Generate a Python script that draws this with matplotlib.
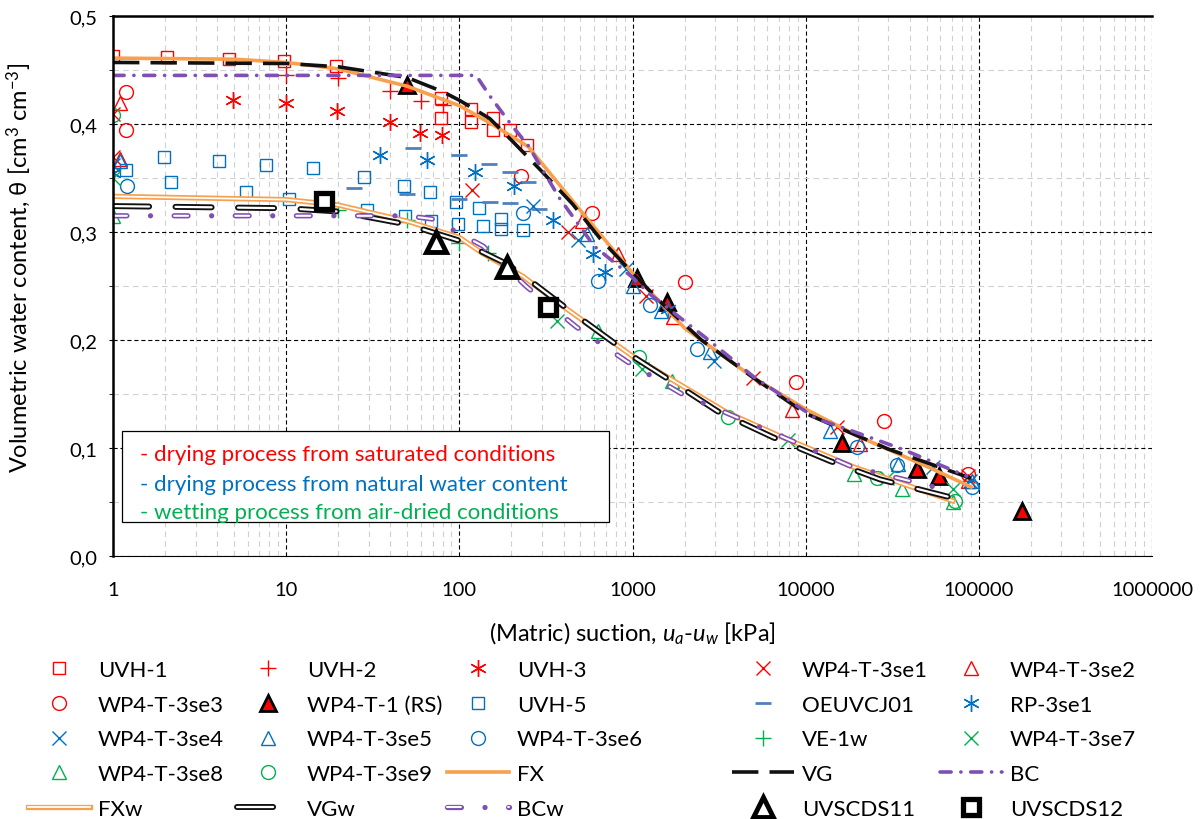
import matplotlib
matplotlib.use("Agg")
import matplotlib.pyplot as plt
from matplotlib.patches import Rectangle
from matplotlib.ticker import FixedLocator, FixedFormatter, NullFormatter

plt.rcParams['font.family'] = ['Lato', 'DejaVu Sans']
plt.rcParams['mathtext.fontset'] = 'custom'
plt.rcParams['mathtext.rm'] = 'Lato'
plt.rcParams['mathtext.it'] = 'Lato:italic'
plt.rcParams['lines.scale_dashes'] = False

# ---- measured points (suction kPa, theta) ----
uvh1_x = [1, 2.05, 4.7, 9.7, 19.4, 78, 78, 117, 117, 156, 156, 196, 246]
uvh1_y = [0.463, 0.462, 0.460, 0.458, 0.454, 0.424, 0.406, 0.414, 0.402, 0.406, 0.394, 0.394, 0.381]
uvh2_x = [10, 20, 40, 60, 80]
uvh2_y = [0.445, 0.443, 0.431, 0.421, 0.418]
uvh3_x = [4.9, 10, 19.6, 39.7, 59, 79]
uvh3_y = [0.422, 0.419, 0.412, 0.402, 0.392, 0.390]
se1_x = [1, 1, 118, 424, 1195, 4955, 15140, 86300]
se1_y = [0.409, 0.369, 0.339, 0.300, 0.241, 0.165, 0.119, 0.074]
se2_x = [1.1, 1.1, 510, 820, 1711, 8320, 20560, 86300]
se2_y = [0.419, 0.368, 0.310, 0.280, 0.221, 0.135, 0.104, 0.069]
se3_x = [1.19, 1.19, 227, 583, 2008, 8780, 28300, 86300]
se3_y = [0.430, 0.394, 0.352, 0.318, 0.254, 0.161, 0.125, 0.076]
rs_x = [49.8, 1060, 1580, 16200, 43900, 58800, 177000]
rs_y = [0.436, 0.257, 0.235, 0.105, 0.081, 0.074, 0.042]
uvh5_x = [1.19, 1.97, 2.16, 4.09, 5.86, 7.64, 10.4, 14.3, 28, 29.3, 48, 48.5, 68,
          68.5, 96, 98.5, 130, 137, 174, 174, 233]
uvh5_y = [0.357, 0.369, 0.346, 0.366, 0.337, 0.362, 0.331, 0.359, 0.351, 0.320, 0.343,
          0.315, 0.337, 0.310, 0.328, 0.307, 0.322, 0.306, 0.312, 0.303, 0.302]
oe_x = [24.6, 53.8, 49.8, 99.6, 99.6, 148, 196, 150, 196, 250, 287]
oe_y = [0.341, 0.378, 0.335, 0.371, 0.331, 0.363, 0.356, 0.328, 0.327, 0.346, 0.321]
rp_x = [1, 34.8, 65, 123, 207, 347, 591, 694, 1600]
rp_y = [0.355, 0.371, 0.367, 0.356, 0.343, 0.311, 0.280, 0.263, 0.229]
se4_x = [1, 268, 483, 920, 2975, 54200, 88700]
se4_y = [0.362, 0.324, 0.293, 0.266, 0.181, 0.082, 0.069]
se5_x = [1.1, 546, 1005, 1470, 2800, 13800, 34000, 91000]
se5_y = [0.366, 0.298, 0.250, 0.227, 0.189, 0.116, 0.085, 0.069]
se6_x = [1.2, 233, 631, 1260, 2360, 19760, 33600, 91000]
se6_y = [0.343, 0.318, 0.255, 0.232, 0.192, 0.101, 0.084, 0.064]
ve1w_x = [20, 50, 100, 146]
ve1w_y = [0.320, 0.311, 0.290, 0.281]
se7_x = [1, 366, 1133, 7890, 29500, 70800]
se7_y = [0.350, 0.218, 0.173, 0.107, 0.072, 0.062]
se8_x = [1, 631, 1690, 18970, 35900, 70800]
se8_y = [0.315, 0.208, 0.162, 0.076, 0.062, 0.050]
se9_x = [1, 1090, 3555, 25800, 72700]
se9_y = [0.408, 0.184, 0.129, 0.072, 0.051]
uvs11_x = [73, 188]
uvs11_y = [0.291, 0.268]
uvs12_x = [16.5, 325]
uvs12_y = [0.329, 0.231]

# ---- fitted curves ----
fx_x = [1, 5, 10, 20, 50, 100, 150, 250, 500, 1000, 2000, 5000, 10000, 20000, 50000, 90000]
fx_y = [0.461, 0.460, 0.457, 0.451, 0.435, 0.417, 0.401, 0.379, 0.320, 0.262, 0.211,
        0.165, 0.136, 0.111, 0.083, 0.064]
vg_x = [1, 10, 20, 50, 80, 100, 150, 200, 300, 450, 650, 1000, 1500, 2500, 5000, 10000,
        30000, 90000]
vg_y = [0.457, 0.456, 0.453, 0.443, 0.430, 0.422, 0.405, 0.385, 0.356, 0.326, 0.294,
        0.262, 0.233, 0.200, 0.165, 0.132, 0.099, 0.072]
bc_x = [1, 125, 150, 200, 250, 380, 600, 1000, 1250, 2800, 5000, 11600, 17000, 36000, 85000]
bc_y = [0.445, 0.445, 0.426, 0.399, 0.380, 0.331, 0.287, 0.258, 0.243, 0.199, 0.166,
        0.127, 0.118, 0.099, 0.074]
fxw_x = [1, 10, 20, 50, 100, 137, 233, 347, 1000, 3500, 7850, 18500, 70800]
fxw_y = [0.333, 0.330, 0.325, 0.310, 0.295, 0.280, 0.259, 0.238, 0.185, 0.133, 0.108,
         0.083, 0.051]
vgw_x = [1, 10, 20, 50, 100, 190, 261, 403, 772, 1000, 1530, 3100, 6460, 13800, 26800, 66000]
vgw_y = [0.324, 0.322, 0.319, 0.307, 0.292, 0.270, 0.254, 0.231, 0.198, 0.185, 0.166,
         0.134, 0.110, 0.088, 0.071, 0.055]
bcw_x = [1, 50, 70, 137, 246, 475, 930, 1930, 5500, 18300, 41000, 62000]
bcw_y = [0.315, 0.315, 0.312, 0.287, 0.249, 0.212, 0.180, 0.150, 0.119, 0.083, 0.069, 0.062]

x_ticks = [1, 10, 100, 1000, 10000, 100000, 1000000]
y_ticks = [0.0, 0.1, 0.2, 0.3, 0.4, 0.5]
y_tick_labels = ["0,0", "0,1", "0,2", "0,3", "0,4", "0,5"]

RED = "#FF0000"
BLUE = "#0070C0"
STEEL = "#4F81BD"
GREEN = "#00B050"
ORANGE = "#F8A04C"
PURPLE = "#7F4FB3"

fig = plt.figure(figsize=(12.04, 8.2), dpi=100)
ax = fig.add_axes([113 / 1204, 263 / 820, 1039 / 1204, 540 / 820])
ax.set_xscale("log")
ax.set_xlim(1, 1000000)
ax.set_ylim(0, 0.5)

ms = dict(linestyle="none", markerfacecolor="none", markeredgewidth=1.0)
h = {}
h["UVH-1"], = ax.plot(uvh1_x, uvh1_y, marker="s", markersize=8, markeredgecolor=RED, **ms)
h["UVH-2"], = ax.plot(uvh2_x, uvh2_y, marker="+", markersize=12, markeredgecolor=RED, **ms)
h["UVH-3"], = ax.plot(uvh3_x, uvh3_y, marker=(6, 2, 0), markersize=12, markeredgecolor=RED, **ms)
h["WP4-T-3se1"], = ax.plot(se1_x, se1_y, marker="x", markersize=10, markeredgecolor=RED, **ms)
h["WP4-T-3se2"], = ax.plot(se2_x, se2_y, marker="^", markersize=10, markeredgecolor=RED, **ms)
h["WP4-T-3se3"], = ax.plot(se3_x, se3_y, marker="o", markersize=10, markeredgecolor=RED, **ms)
h["WP4-T-1 (RS)"], = ax.plot(rs_x, rs_y, linestyle="none", marker="^", markersize=11,
                             markerfacecolor=RED, markeredgecolor="black", markeredgewidth=2)
h["UVH-5"], = ax.plot(uvh5_x, uvh5_y, marker="s", markersize=8, markeredgecolor=BLUE, **ms)
h["OEUVCJ01"], = ax.plot(oe_x, oe_y, linestyle="none", marker="_", markersize=11,
                         markeredgecolor=STEEL, markeredgewidth=2)
h["RP-3se1"], = ax.plot(rp_x, rp_y, marker=(6, 2, 0), markersize=12, markeredgecolor=BLUE, **ms)
h["WP4-T-3se4"], = ax.plot(se4_x, se4_y, marker="x", markersize=10, markeredgecolor=BLUE, **ms)
h["WP4-T-3se5"], = ax.plot(se5_x, se5_y, marker="^", markersize=10, markeredgecolor=BLUE, **ms)
h["WP4-T-3se6"], = ax.plot(se6_x, se6_y, marker="o", markersize=10, markeredgecolor=BLUE, **ms)
h["VE-1w"], = ax.plot(ve1w_x, ve1w_y, marker="+", markersize=12, markeredgecolor=GREEN, **ms)
h["WP4-T-3se7"], = ax.plot(se7_x, se7_y, marker="x", markersize=10, markeredgecolor=GREEN, **ms)
h["WP4-T-3se8"], = ax.plot(se8_x, se8_y, marker="^", markersize=10, markeredgecolor=GREEN, **ms)
h["WP4-T-3se9"], = ax.plot(se9_x, se9_y, marker="o", markersize=10, markeredgecolor=GREEN, **ms)

# drying fits
h["FX"], = ax.plot(fx_x, fx_y, color=ORANGE, lw=2.6)
h["VG"], = ax.plot(vg_x, vg_y, color="#111111", lw=2.6, linestyle=(0, (19, 8)))
h["BC"], = ax.plot(bc_x, bc_y, color=PURPLE, lw=2.6, linestyle=(0, (8, 7, 0.1, 7)),
                   dash_capstyle="round")

# wetting fits (double lines)
o1, = ax.plot(fxw_x, fxw_y, color=ORANGE, lw=3.8)
i1, = ax.plot(fxw_x, fxw_y, color="white", lw=1.3)
h["FXw"] = (o1, i1)
o2, = ax.plot(vgw_x, vgw_y, color="#111111", lw=4.3, linestyle=(0, (26, 19)),
              dash_capstyle="round")
i2, = ax.plot(vgw_x, vgw_y, color="white", lw=1.6, linestyle=(0, (26, 19)),
              dash_capstyle="round")
h["VGw"] = (o2, i2)
o3, = ax.plot(bcw_x, bcw_y, color=PURPLE, lw=3.8, linestyle=(0, (10, 17, 0.01, 17)),
              dash_capstyle="round")
i3, = ax.plot(bcw_x, bcw_y, color="white", lw=1.5, linestyle=(0, (10, 34.01)),
              dash_capstyle="round")
h["BCw"] = (o3, i3)

h["UVSCDS11"], = ax.plot(uvs11_x, uvs11_y, linestyle="none", marker="^", markersize=15,
                         markerfacecolor="white", markeredgecolor="black", markeredgewidth=3.5)
h["UVSCDS12"], = ax.plot(uvs12_x, uvs12_y, linestyle="none", marker="s", markersize=12,
                         markerfacecolor="white", markeredgecolor="black", markeredgewidth=3.8)

# axes styling
ax.xaxis.set_major_locator(FixedLocator(x_ticks))
ax.xaxis.set_major_formatter(FixedFormatter([str(v) for v in x_ticks]))
ax.xaxis.set_minor_formatter(NullFormatter())
ax.yaxis.set_major_locator(FixedLocator(y_ticks))
ax.yaxis.set_major_formatter(FixedFormatter(y_tick_labels))
ax.yaxis.set_minor_locator(FixedLocator([0.05, 0.15, 0.25, 0.35, 0.45]))
ax.grid(which="major", color="black", linestyle=(0, (3, 2)), linewidth=0.8)
ax.grid(which="minor", color="#D0D0D0", linestyle=(0, (4, 3)), linewidth=0.8)
ax.set_axisbelow(True)
for s in ["left", "top"]:
    ax.spines[s].set_linewidth(1.8)
ax.spines["right"].set_visible(False)
ax.spines["bottom"].set_linewidth(0.8)
ax.tick_params(axis="y", which="both", direction="out", length=3, labelsize=14.5, pad=8)
ax.tick_params(axis="x", which="both", direction="out", length=0, labelsize=14.5, pad=18)

ax.set_ylabel(r"Volumetric water content, θ [cm$^3$ cm$^{-3}$]", fontsize=17)
ax.set_xlabel(r"(Matric) suction, $u_a$-$u_w$ [kPa]", fontsize=17)
ax.yaxis.set_label_coords(-0.077, 0.535)
ax.xaxis.set_label_coords(0.5, -0.118)

# process note box
ax.add_patch(Rectangle((0.0087, 0.063), 0.469, 0.169, transform=ax.transAxes,
                       facecolor="white", edgecolor="black", lw=0.9, zorder=5))
notes = [("- drying process from saturated conditions", RED, 0.189),
         ("- drying process from natural water content", BLUE, 0.134),
         ("- wetting process from air-dried conditions", GREEN, 0.082)]
for txt, col, yy in notes:
    ax.text(0.026, yy, txt, color=col, fontsize=16, transform=ax.transAxes,
            va="center", ha="left", zorder=6)

# legend: 5 columns laid out row by row
order = ["UVH-1", "UVH-2", "UVH-3", "WP4-T-3se1", "WP4-T-3se2",
         "WP4-T-3se3", "WP4-T-1 (RS)", "UVH-5", "OEUVCJ01", "RP-3se1",
         "WP4-T-3se4", "WP4-T-3se5", "WP4-T-3se6", "VE-1w", "WP4-T-3se7",
         "WP4-T-3se8", "WP4-T-3se9", "FX", "VG", "BC",
         "FXw", "VGw", "BCw", "UVSCDS11", "UVSCDS12"]
col_x = [28, 237, 447, 732, 940]
for c in range(5):
    names = [order[r * 5 + c] for r in range(5)]
    leg = fig.legend([h[n] for n in names], names, loc="upper left",
                     bbox_to_anchor=(col_x[c] / 1204, 1 - 661 / 820), frameon=False,
                     fontsize=16, handlelength=2.8, handletextpad=0.35, borderpad=0,
                     borderaxespad=0, labelspacing=0.66, numpoints=1)

fig.savefig("out.png", dpi=100)
